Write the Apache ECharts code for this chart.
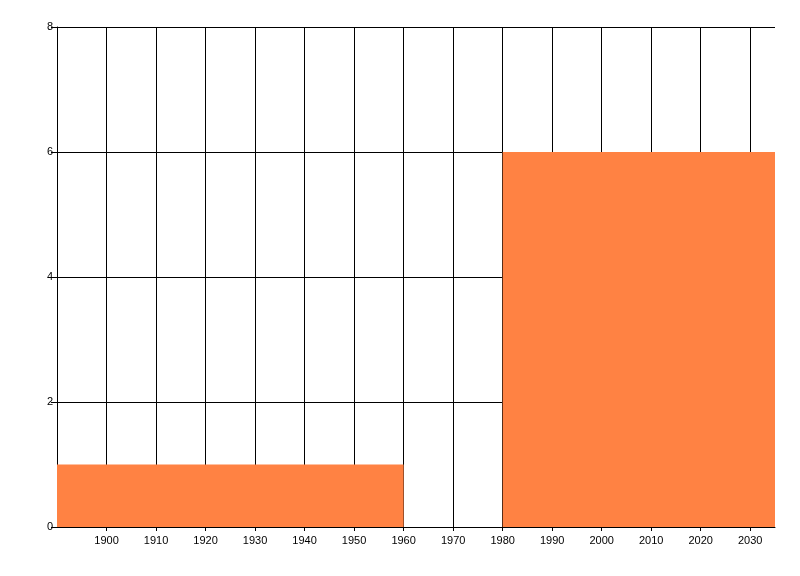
<!DOCTYPE html>
<html>
<head>
<meta charset="utf-8">
<script src="https://cdn.jsdelivr.net/npm/echarts@6/dist/echarts.min.js"></script>
<style>
  html, body { margin: 0; padding: 0; background: #fff; }
  #chart { width: 800px; height: 576px; }
</style>
</head>
<body>
<div id="chart"></div>
<script>
// range bars: start year, end year, height
const barStarts = [1890, 1980];
const barEnds = [1960, 2035];
const barValues = [1, 6];
const yTicks = [0, 2, 4, 6, 8];

const myChart = echarts.init(document.getElementById('chart'));

const data = barStarts.map((s, i) => [s, barEnds[i], barValues[i]]);

const axisFont = { color: '#000', fontFamily: 'Liberation Sans, DejaVu Sans, sans-serif', fontSize: 11 };

// 1890..2030 lines black, no line at the 2035 edge
const vLineColors = [];
for (let i = 0; i < 15; i++) vLineColors.push('#000');
vLineColors.push('rgba(0,0,0,0)');

const option = {
  animation: false,
  grid: { left: 57, top: 27, right: 25, bottom: 49 },
  xAxis: {
    type: 'value',
    min: 1890,
    max: 2035,
    interval: 10,
    axisLine: { show: true, lineStyle: { color: '#000', width: 1 } },
    axisTick: { show: true, length: 4, lineStyle: { color: '#000' } },
    axisLabel: Object.assign({ showMinLabel: false, showMaxLabel: false, margin: 8,
      formatter: v => (v === 1890 ? '' : String(v)) }, axisFont),
    splitLine: { show: true, lineStyle: { color: vLineColors, width: 1 } }
  },
  yAxis: {
    type: 'value',
    min: yTicks[0],
    max: yTicks[yTicks.length - 1],
    interval: 2,
    axisLine: { show: true, lineStyle: { color: '#000', width: 1 } },
    axisTick: { show: true, length: 6, lineStyle: { color: '#000' } },
    axisLabel: Object.assign({ margin: 4 }, axisFont),
    splitLine: { show: true, lineStyle: { color: '#000', width: 1 } }
  },
  series: [{
    type: 'custom',
    data: data,
    encode: { x: [0, 1], y: 2 },
    renderItem: function (params, api) {
      const p0 = api.coord([api.value(0), api.value(2)]);
      const p1 = api.coord([api.value(1), 0]);
      return {
        type: 'rect',
        shape: { x: p0[0], y: p0[1], width: p1[0] - p0[0], height: p1[1] - p0[1] },
        style: { fill: '#FF8243' }
      };
    }
  }]
};

option && myChart.setOption(option);
</script>
</body>
</html>
